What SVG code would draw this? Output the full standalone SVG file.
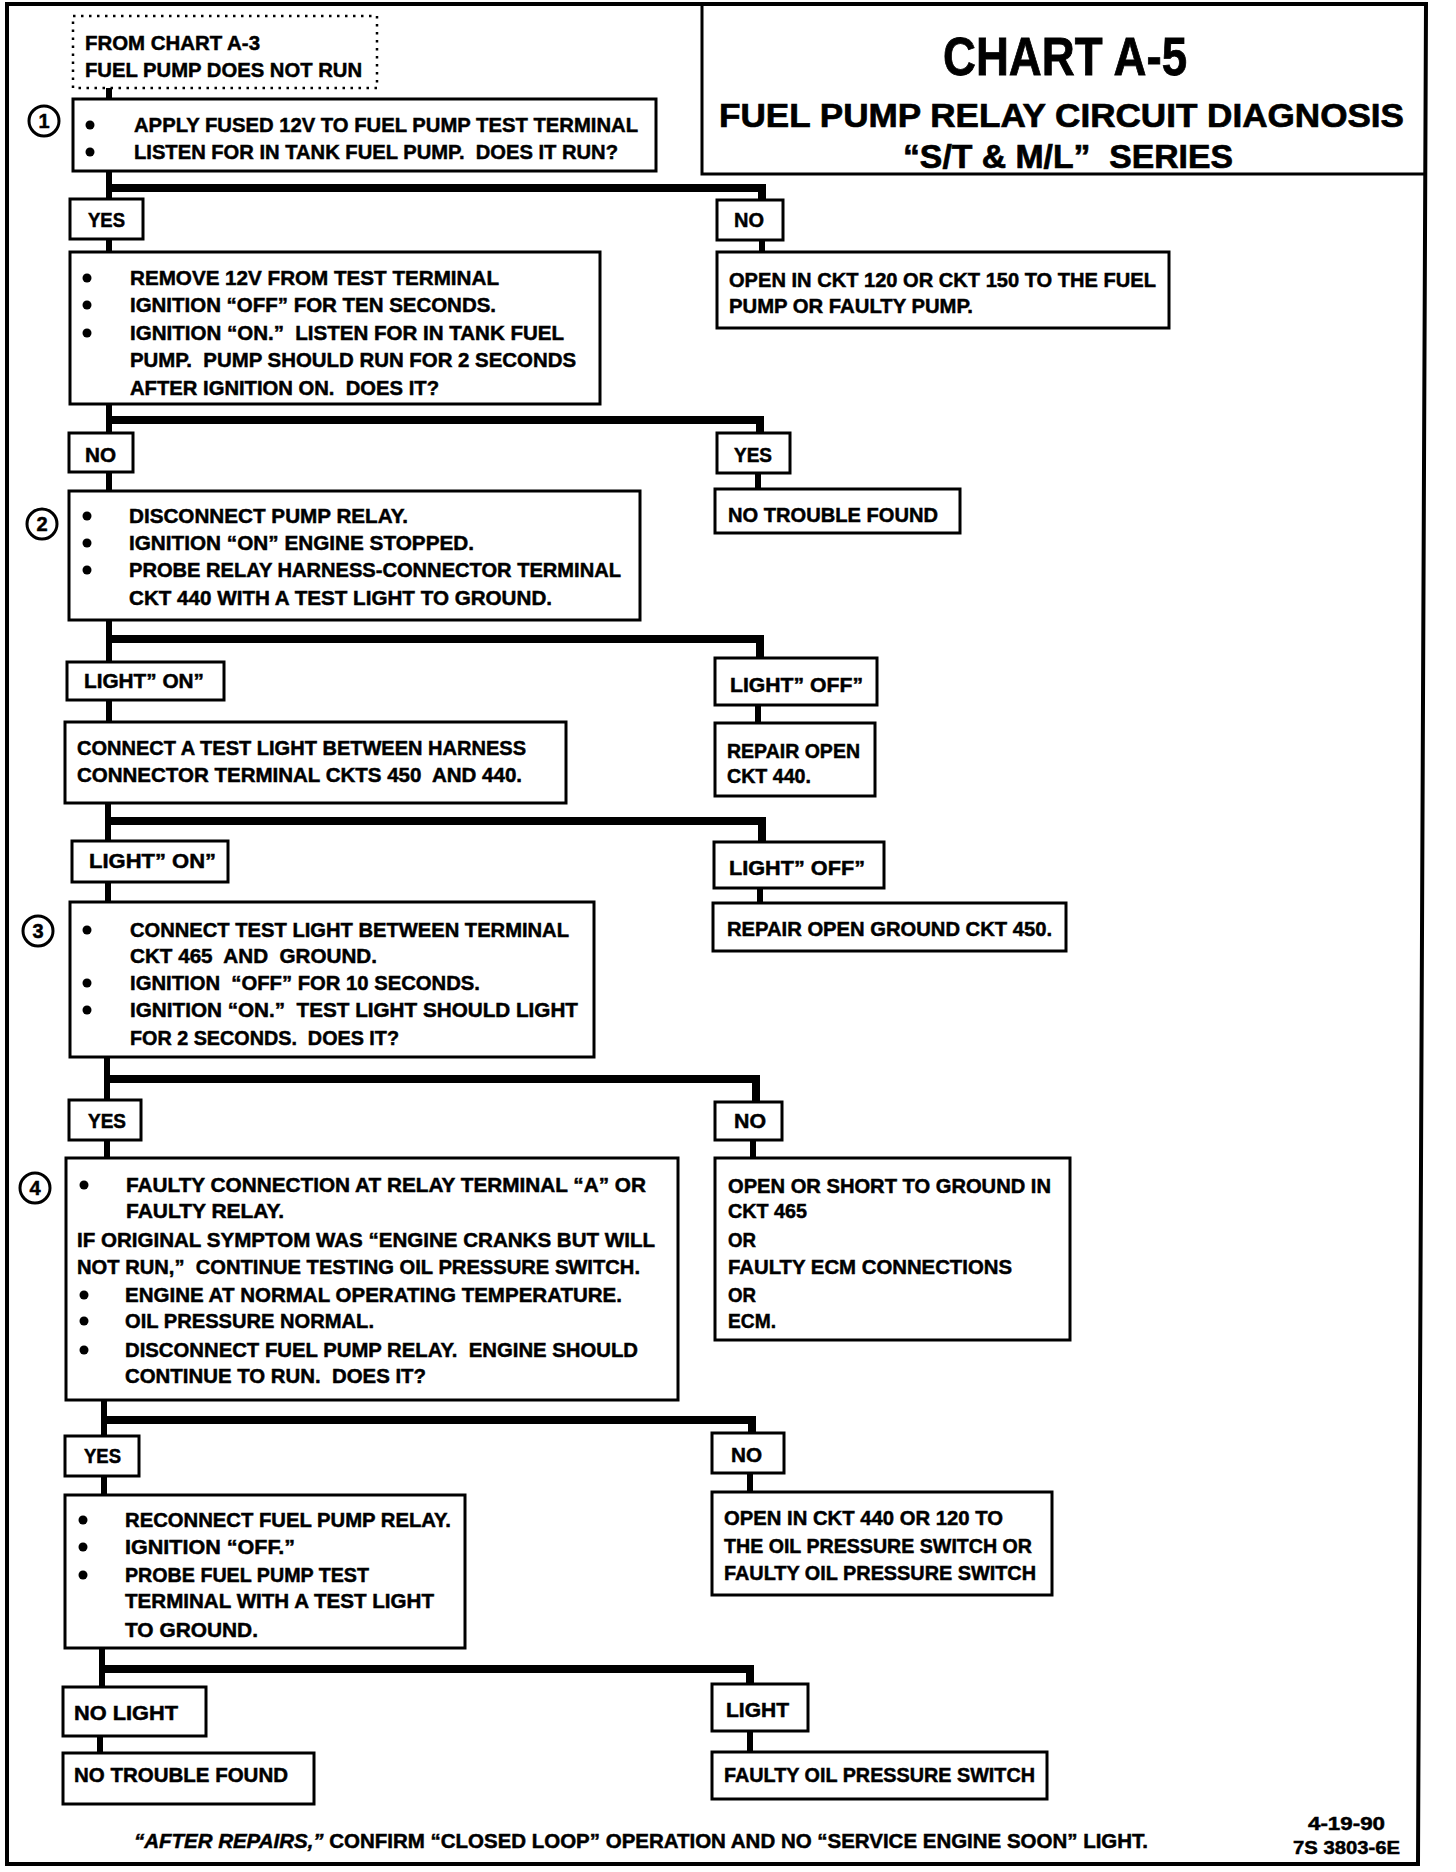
<svg xmlns="http://www.w3.org/2000/svg" width="1456" height="1872" viewBox="0 0 1456 1872">
<style>
.bx{fill:#fff;stroke:#000;stroke-width:3}
.dot{fill:none;stroke:#000;stroke-width:2.5;stroke-dasharray:2.5 5.5}
.t{font-family:"Liberation Sans",Arial,sans-serif;font-weight:bold;font-size:21px;fill:#000;stroke:#000;stroke-width:0.5;white-space:pre}
.c{fill:none;stroke:#000;stroke-width:6;stroke-linejoin:miter}
.bar{fill:none;stroke:#000;stroke-width:8;stroke-linejoin:miter}
.b{fill:#000}
.num{fill:#fff;stroke:#000;stroke-width:3}
</style>
<rect width="1456" height="1872" fill="#fff"/>
<path id="frame" d="M7 4H1426L1418 1864H7Z" fill="none" stroke="#000" stroke-width="4"/>

<g id="title">
<path d="M702 4V174H1426" fill="none" stroke="#000" stroke-width="3"/>
<text class="t" x="1065" y="75" text-anchor="middle" textLength="244" lengthAdjust="spacingAndGlyphs" style="font-size:53px;stroke-width:0.8">CHART A-5</text>
<text class="t" x="719" y="127" textLength="685" lengthAdjust="spacingAndGlyphs" style="font-size:34px;stroke-width:0.7">FUEL PUMP RELAY CIRCUIT DIAGNOSIS</text>
<text class="t" x="903" y="168" textLength="330" lengthAdjust="spacingAndGlyphs" style="font-size:34px;stroke-width:0.7">“S/T &amp; M/L”  SERIES</text>
</g>

<g id="connectors">
<path class="c" d="M109 88V99"/>
<path class="c" d="M109 171V199"/>
<path class="bar" d="M109 188H762V200"/>
<path class="c" d="M109 239V252"/>
<path class="c" d="M762 240V252"/>
<path class="c" d="M109 404V433"/>
<path class="bar" d="M109 420H760V433"/>
<path class="c" d="M109 472V491"/>
<path class="c" d="M758 473V489"/>
<path class="c" d="M109 620V662"/>
<path class="bar" d="M109 639H760V658"/>
<path class="c" d="M109 700V722"/>
<path class="c" d="M758 705V723"/>
<path class="c" d="M108 803V841"/>
<path class="bar" d="M108 821H762V842"/>
<path class="c" d="M108 882V902"/>
<path class="c" d="M760 888V903"/>
<path class="c" d="M107 1057V1100"/>
<path class="bar" d="M107 1079H756V1102"/>
<path class="c" d="M107 1140V1158"/>
<path class="c" d="M753 1140V1158"/>
<path class="c" d="M104 1400V1436"/>
<path class="bar" d="M104 1420H752V1433"/>
<path class="c" d="M104 1476V1495"/>
<path class="c" d="M750 1473V1492"/>
<path class="c" d="M102 1648V1687"/>
<path class="bar" d="M102 1669H750V1684"/>
<path class="c" d="M100 1736V1753"/>
<path class="c" d="M750 1731V1752"/>
</g>

<g id="start">
<rect class="dot" x="73" y="16" width="304" height="72"/>
<text class="t" x="85" y="50" textLength="175" lengthAdjust="spacingAndGlyphs">FROM CHART A-3</text>
<text class="t" x="85" y="77" textLength="277" lengthAdjust="spacingAndGlyphs">FUEL PUMP DOES NOT RUN</text>
</g>

<g id="step1">
<circle class="num" cx="44" cy="121" r="15"/>
<text class="t" x="44" y="128" text-anchor="middle" style="font-size:20px">1</text>
<rect class="bx" x="73" y="99" width="583" height="72"/>
<circle class="b" cx="90" cy="125" r="4.5"/>
<circle class="b" cx="90" cy="152" r="4.5"/>
<text class="t" x="134" y="132" textLength="504" lengthAdjust="spacingAndGlyphs">APPLY FUSED 12V TO FUEL PUMP TEST TERMINAL</text>
<text class="t" x="134" y="159" textLength="484" lengthAdjust="spacingAndGlyphs">LISTEN FOR IN TANK FUEL PUMP.  DOES IT RUN?</text>
</g>

<g id="yes1"><rect class="bx" x="70" y="199" width="73" height="40"/><text class="t" x="88" y="227" textLength="37" lengthAdjust="spacingAndGlyphs">YES</text></g>
<g id="no1"><rect class="bx" x="717" y="200" width="66" height="40"/><text class="t" x="734" y="227" textLength="30" lengthAdjust="spacingAndGlyphs">NO</text></g>

<g id="step1b">
<rect class="bx" x="70" y="252" width="530" height="152"/>
<circle class="b" cx="87" cy="278" r="4.5"/>
<circle class="b" cx="87" cy="305" r="4.5"/>
<circle class="b" cx="87" cy="333" r="4.5"/>
<text class="t" x="130" y="285" textLength="369" lengthAdjust="spacingAndGlyphs">REMOVE 12V FROM TEST TERMINAL</text>
<text class="t" x="130" y="312" textLength="366" lengthAdjust="spacingAndGlyphs">IGNITION “OFF” FOR TEN SECONDS.</text>
<text class="t" x="130" y="340" textLength="434" lengthAdjust="spacingAndGlyphs">IGNITION “ON.”  LISTEN FOR IN TANK FUEL</text>
<text class="t" x="130" y="367" textLength="446" lengthAdjust="spacingAndGlyphs">PUMP.  PUMP SHOULD RUN FOR 2 SECONDS</text>
<text class="t" x="130" y="395" textLength="309" lengthAdjust="spacingAndGlyphs">AFTER IGNITION ON.  DOES IT?</text>
</g>

<g id="res1">
<rect class="bx" x="717" y="252" width="452" height="76"/>
<text class="t" x="729" y="287" textLength="427" lengthAdjust="spacingAndGlyphs">OPEN IN CKT 120 OR CKT 150 TO THE FUEL</text>
<text class="t" x="729" y="313" textLength="244" lengthAdjust="spacingAndGlyphs">PUMP OR FAULTY PUMP.</text>
</g>

<g id="no2"><rect class="bx" x="69" y="433" width="64" height="39"/><text class="t" x="85" y="462" textLength="31" lengthAdjust="spacingAndGlyphs">NO</text></g>
<g id="yes2"><rect class="bx" x="717" y="433" width="73" height="40"/><text class="t" x="734" y="462" textLength="38" lengthAdjust="spacingAndGlyphs">YES</text></g>
<g id="ntf1"><rect class="bx" x="715" y="489" width="245" height="44"/><text class="t" x="728" y="522" textLength="210" lengthAdjust="spacingAndGlyphs">NO TROUBLE FOUND</text></g>

<g id="step2">
<circle class="num" cx="42" cy="524" r="15"/>
<text class="t" x="42" y="531" text-anchor="middle" style="font-size:20px">2</text>
<rect class="bx" x="69" y="491" width="571" height="129"/>
<circle class="b" cx="87" cy="516" r="4.5"/>
<circle class="b" cx="87" cy="543" r="4.5"/>
<circle class="b" cx="87" cy="570" r="4.5"/>
<text class="t" x="129" y="523" textLength="279" lengthAdjust="spacingAndGlyphs">DISCONNECT PUMP RELAY.</text>
<text class="t" x="129" y="550" textLength="345" lengthAdjust="spacingAndGlyphs">IGNITION “ON” ENGINE STOPPED.</text>
<text class="t" x="129" y="577" textLength="492" lengthAdjust="spacingAndGlyphs">PROBE RELAY HARNESS-CONNECTOR TERMINAL</text>
<text class="t" x="129" y="605" textLength="423" lengthAdjust="spacingAndGlyphs">CKT 440 WITH A TEST LIGHT TO GROUND.</text>
</g>

<g id="lon1"><rect class="bx" x="67" y="662" width="157" height="38"/><text class="t" x="84" y="688" textLength="120" lengthAdjust="spacingAndGlyphs">LIGHT” ON”</text></g>
<g id="loff1"><rect class="bx" x="715" y="658" width="162" height="47"/><text class="t" x="730" y="692" textLength="133" lengthAdjust="spacingAndGlyphs">LIGHT” OFF”</text></g>

<g id="step2b">
<rect class="bx" x="65" y="722" width="501" height="81"/>
<text class="t" x="77" y="755" textLength="449" lengthAdjust="spacingAndGlyphs">CONNECT A TEST LIGHT BETWEEN HARNESS</text>
<text class="t" x="77" y="782" textLength="445" lengthAdjust="spacingAndGlyphs">CONNECTOR TERMINAL CKTS 450  AND 440.</text>
</g>
<g id="res2">
<rect class="bx" x="715" y="723" width="160" height="73"/>
<text class="t" x="727" y="758" textLength="133" lengthAdjust="spacingAndGlyphs">REPAIR OPEN</text>
<text class="t" x="727" y="783" textLength="84" lengthAdjust="spacingAndGlyphs">CKT 440.</text>
</g>

<g id="lon2"><rect class="bx" x="72" y="841" width="156" height="41"/><text class="t" x="89" y="868" textLength="127" lengthAdjust="spacingAndGlyphs">LIGHT” ON”</text></g>
<g id="loff2"><rect class="bx" x="714" y="842" width="170" height="46"/><text class="t" x="729" y="875" textLength="136" lengthAdjust="spacingAndGlyphs">LIGHT” OFF”</text></g>
<g id="res3"><rect class="bx" x="713" y="903" width="353" height="48"/><text class="t" x="727" y="936" textLength="325" lengthAdjust="spacingAndGlyphs">REPAIR OPEN GROUND CKT 450.</text></g>

<g id="step3">
<circle class="num" cx="38" cy="931" r="15"/>
<text class="t" x="38" y="938" text-anchor="middle" style="font-size:20px">3</text>
<rect class="bx" x="70" y="902" width="524" height="155"/>
<circle class="b" cx="87" cy="930" r="4.5"/>
<circle class="b" cx="87" cy="983" r="4.5"/>
<circle class="b" cx="87" cy="1010" r="4.5"/>
<text class="t" x="130" y="937" textLength="439" lengthAdjust="spacingAndGlyphs">CONNECT TEST LIGHT BETWEEN TERMINAL</text>
<text class="t" x="130" y="963" textLength="247" lengthAdjust="spacingAndGlyphs">CKT 465  AND  GROUND.</text>
<text class="t" x="130" y="990" textLength="350" lengthAdjust="spacingAndGlyphs">IGNITION  “OFF” FOR 10 SECONDS.</text>
<text class="t" x="130" y="1017" textLength="448" lengthAdjust="spacingAndGlyphs">IGNITION “ON.”  TEST LIGHT SHOULD LIGHT</text>
<text class="t" x="130" y="1045" textLength="269" lengthAdjust="spacingAndGlyphs">FOR 2 SECONDS.  DOES IT?</text>
</g>

<g id="yes3"><rect class="bx" x="69" y="1100" width="72" height="40"/><text class="t" x="88" y="1128" textLength="38" lengthAdjust="spacingAndGlyphs">YES</text></g>
<g id="no3"><rect class="bx" x="715" y="1102" width="67" height="38"/><text class="t" x="734" y="1128" textLength="32" lengthAdjust="spacingAndGlyphs">NO</text></g>

<g id="step4">
<circle class="num" cx="35" cy="1188" r="15"/>
<text class="t" x="35" y="1195" text-anchor="middle" style="font-size:20px">4</text>
<rect class="bx" x="66" y="1158" width="612" height="242"/>
<circle class="b" cx="84" cy="1185" r="4.5"/>
<circle class="b" cx="84" cy="1295" r="4.5"/>
<circle class="b" cx="84" cy="1321" r="4.5"/>
<circle class="b" cx="84" cy="1350" r="4.5"/>
<text class="t" x="126" y="1192" textLength="520" lengthAdjust="spacingAndGlyphs">FAULTY CONNECTION AT RELAY TERMINAL “A” OR</text>
<text class="t" x="126" y="1218" textLength="158" lengthAdjust="spacingAndGlyphs">FAULTY RELAY.</text>
<text class="t" x="77" y="1247" textLength="578" lengthAdjust="spacingAndGlyphs">IF ORIGINAL SYMPTOM WAS “ENGINE CRANKS BUT WILL</text>
<text class="t" x="77" y="1274" textLength="563" lengthAdjust="spacingAndGlyphs">NOT RUN,”  CONTINUE TESTING OIL PRESSURE SWITCH.</text>
<text class="t" x="125" y="1302" textLength="497" lengthAdjust="spacingAndGlyphs">ENGINE AT NORMAL OPERATING TEMPERATURE.</text>
<text class="t" x="125" y="1328" textLength="249" lengthAdjust="spacingAndGlyphs">OIL PRESSURE NORMAL.</text>
<text class="t" x="125" y="1357" textLength="513" lengthAdjust="spacingAndGlyphs">DISCONNECT FUEL PUMP RELAY.  ENGINE SHOULD</text>
<text class="t" x="125" y="1383" textLength="301" lengthAdjust="spacingAndGlyphs">CONTINUE TO RUN.  DOES IT?</text>
</g>

<g id="res4">
<rect class="bx" x="715" y="1158" width="355" height="182"/>
<text class="t" x="728" y="1193" textLength="323" lengthAdjust="spacingAndGlyphs">OPEN OR SHORT TO GROUND IN</text>
<text class="t" x="728" y="1218" textLength="79" lengthAdjust="spacingAndGlyphs">CKT 465</text>
<text class="t" x="728" y="1247" textLength="28" lengthAdjust="spacingAndGlyphs">OR</text>
<text class="t" x="728" y="1274" textLength="284" lengthAdjust="spacingAndGlyphs">FAULTY ECM CONNECTIONS</text>
<text class="t" x="728" y="1302" textLength="28" lengthAdjust="spacingAndGlyphs">OR</text>
<text class="t" x="728" y="1328" textLength="48" lengthAdjust="spacingAndGlyphs">ECM.</text>
</g>

<g id="yes4"><rect class="bx" x="65" y="1436" width="74" height="40"/><text class="t" x="84" y="1463" textLength="37" lengthAdjust="spacingAndGlyphs">YES</text></g>
<g id="no4"><rect class="bx" x="712" y="1433" width="72" height="40"/><text class="t" x="731" y="1462" textLength="31" lengthAdjust="spacingAndGlyphs">NO</text></g>

<g id="step5">
<rect class="bx" x="65" y="1495" width="400" height="153"/>
<circle class="b" cx="83" cy="1520" r="4.5"/>
<circle class="b" cx="83" cy="1547" r="4.5"/>
<circle class="b" cx="83" cy="1575" r="4.5"/>
<text class="t" x="125" y="1527" textLength="326" lengthAdjust="spacingAndGlyphs">RECONNECT FUEL PUMP RELAY.</text>
<text class="t" x="125" y="1554" textLength="170" lengthAdjust="spacingAndGlyphs">IGNITION “OFF.”</text>
<text class="t" x="125" y="1582" textLength="244" lengthAdjust="spacingAndGlyphs">PROBE FUEL PUMP TEST</text>
<text class="t" x="125" y="1608" textLength="309" lengthAdjust="spacingAndGlyphs">TERMINAL WITH A TEST LIGHT</text>
<text class="t" x="125" y="1637" textLength="133" lengthAdjust="spacingAndGlyphs">TO GROUND.</text>
</g>

<g id="res5">
<rect class="bx" x="712" y="1492" width="340" height="103"/>
<text class="t" x="724" y="1525" textLength="279" lengthAdjust="spacingAndGlyphs">OPEN IN CKT 440 OR 120 TO</text>
<text class="t" x="724" y="1553" textLength="308" lengthAdjust="spacingAndGlyphs">THE OIL PRESSURE SWITCH OR</text>
<text class="t" x="724" y="1580" textLength="312" lengthAdjust="spacingAndGlyphs">FAULTY OIL PRESSURE SWITCH</text>
</g>

<g id="nolight"><rect class="bx" x="63" y="1687" width="143" height="49"/><text class="t" x="74" y="1720" textLength="104" lengthAdjust="spacingAndGlyphs">NO LIGHT</text></g>
<g id="ntf2"><rect class="bx" x="63" y="1753" width="251" height="51"/><text class="t" x="74" y="1782" textLength="214" lengthAdjust="spacingAndGlyphs">NO TROUBLE FOUND</text></g>
<g id="light"><rect class="bx" x="712" y="1684" width="96" height="47"/><text class="t" x="726" y="1717" textLength="63" lengthAdjust="spacingAndGlyphs">LIGHT</text></g>
<g id="fops"><rect class="bx" x="712" y="1752" width="335" height="47"/><text class="t" x="724" y="1782" textLength="311" lengthAdjust="spacingAndGlyphs">FAULTY OIL PRESSURE SWITCH</text></g>

<g id="footer">
<text class="t" x="134" y="1848" textLength="1014" lengthAdjust="spacingAndGlyphs" style="font-size:20px"><tspan font-style="italic">“AFTER REPAIRS,”</tspan> CONFIRM “CLOSED LOOP” OPERATION AND NO “SERVICE ENGINE SOON” LIGHT.</text>
<text class="t" x="1308" y="1830" textLength="77" lengthAdjust="spacingAndGlyphs" style="font-size:19px">4-19-90</text>
<text class="t" x="1293" y="1854" textLength="107" lengthAdjust="spacingAndGlyphs" style="font-size:19px">7S 3803-6E</text>
</g>
</svg>
